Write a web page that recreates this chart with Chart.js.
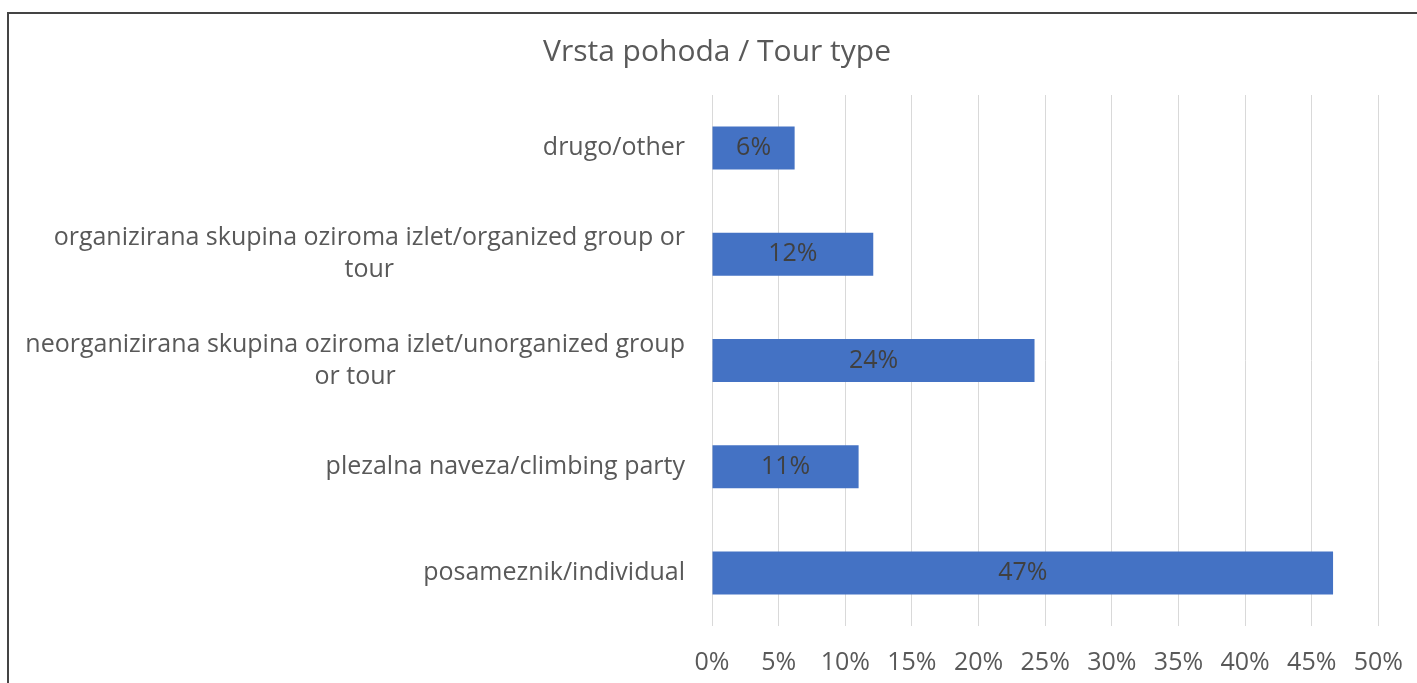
<!DOCTYPE html>
<html>
<head>
<meta charset="utf-8">
<title>Vrsta pohoda / Tour type</title>
<script src="https://cdn.jsdelivr.net/npm/chart.js@4"></script>
<style>
    html, body { margin: 0; padding: 0; background: #ffffff; overflow: hidden; width: 1417px; height: 683px; }
    #frame { position: absolute; left: 7px; top: 12px; width: 2000px; height: 2000px;
             border-left: 2px solid #444444; border-top: 2px solid #444444; }
    #wrap { position: absolute; left: 9px; top: 14px; width: 1416px; height: 669px; }
</style>
</head>
<body>
<div id="frame"></div>
<div id="wrap"><canvas id="tourChart"></canvas></div>
<script>
// Podatki (od zgoraj navzdol)
const categories = [
    ['drugo/other'],
    ['organizirana skupina oziroma izlet/organized group or', 'tour'],
    ['neorganizirana skupina oziroma izlet/unorganized group', 'or tour'],
    ['plezalna naveza/climbing party'],
    ['posameznik/individual']
];
const shares = [6.2, 12.1, 24.2, 11.0, 46.6];
const xTicks = [0, 5, 10, 15, 20, 25, 30, 35, 40, 45, 50];

const FONT = "'Open Sans', 'Noto Sans', sans-serif";
const TEXT = '#595959';

// Category labels: right aligned block, lines centered inside the block (like Excel)
const categoryLabels = {
    id: 'categoryLabels',
    afterDraw(chart) {
        const ctx = chart.ctx;
        const y = chart.scales.y;
        const right = chart.chartArea.left - 27;
        const lineH = 32;
        ctx.save();
        ctx.font = '25px ' + FONT;
        ctx.fillStyle = TEXT;
        ctx.textAlign = 'center';
        ctx.textBaseline = 'middle';
        categories.forEach((lines, i) => {
            const cy = y.getPixelForTick(i);
            const w = Math.max(...lines.map(l => ctx.measureText(l).width));
            const cx = right - w / 2;
            const y0 = cy - (lines.length - 1) * lineH / 2;
            lines.forEach((l, j) => ctx.fillText(l, cx, y0 + j * lineH));
        });
        ctx.restore();
    }
};

// Value labels centered in bars
const valueLabels = {
    id: 'valueLabels',
    afterDatasetsDraw(chart) {
        const ctx = chart.ctx;
        const meta = chart.getDatasetMeta(0);
        ctx.save();
        ctx.font = '25px ' + FONT;
        ctx.fillStyle = '#404040';
        ctx.textAlign = 'center';
        ctx.textBaseline = 'middle';
        meta.data.forEach((bar, i) => {
            const cx = (bar.x + bar.base) / 2;
            ctx.fillText(Math.round(shares[i]) + '%', cx, bar.y);
        });
        ctx.restore();
    }
};

new Chart(document.getElementById('tourChart'), {
    type: 'bar',
    data: {
        labels: categories,
        datasets: [{
            data: shares,
            backgroundColor: '#4472C4',
            borderWidth: 0,
            categoryPercentage: 1,
            barPercentage: 0.405
        }]
    },
    options: {
        indexAxis: 'y',
        responsive: true,
        maintainAspectRatio: false,
        animation: false,
        layout: { padding: { left: 44, right: 44, top: 0, bottom: 5 } },
        plugins: {
            legend: { display: false },
            tooltip: { enabled: false },
            title: {
                display: true,
                text: 'Vrsta pohoda / Tour type',
                color: TEXT,
                font: { family: FONT, size: 30, weight: 'normal', lineHeight: 1.2 },
                padding: { top: 20, bottom: 25 }
            }
        },
        scales: {
            x: {
                min: 0,
                max: 50,
                afterBuildTicks: s => { s.ticks = xTicks.map(v => ({ value: v })); },
                grid: { color: '#d9d9d9', lineWidth: 1, drawTicks: false },
                border: { display: false },
                ticks: {
                    color: TEXT,
                    padding: 22,
                    font: { family: FONT, size: 25, lineHeight: 1.2 },
                    callback: v => v + '%'
                },
                afterFit: s => { s.height = 52; }
            },
            y: {
                grid: { display: false, drawTicks: false },
                border: { display: false },
                ticks: { display: false },
                afterFit: s => { s.width = 659; }
            }
        }
    },
    plugins: [categoryLabels, valueLabels]
});
</script>
</body>
</html>
